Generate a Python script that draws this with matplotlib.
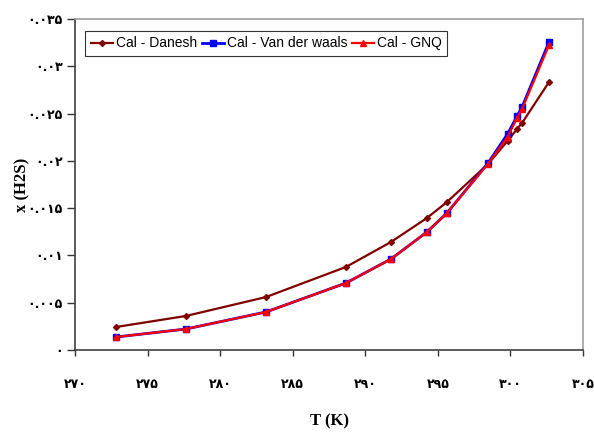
import matplotlib.pyplot as plt
import numpy as np

# temperatures (K) and H2S mole fraction for each model
T = [272.82, 277.65, 283.16, 288.67, 291.77, 294.25, 295.63, 298.46, 299.80, 300.46, 300.80, 302.66]
x_danesh = [0.00243, 0.00360, 0.00560, 0.00878, 0.01142, 0.01396, 0.01565, 0.01967, 0.02210, 0.02337, 0.02400, 0.02834]
x_vdw = [0.00137, 0.00222, 0.00402, 0.00708, 0.00962, 0.01248, 0.01449, 0.01977, 0.02284, 0.02474, 0.02569, 0.03257]
x_gnq = [0.00137, 0.00222, 0.00402, 0.00708, 0.00962, 0.01248, 0.01449, 0.01970, 0.02252, 0.02453, 0.02548, 0.03225]

xticks = [270, 275, 280, 285, 290, 295, 300, 305]
yticks = [0, 0.005, 0.01, 0.015, 0.02, 0.025, 0.03, 0.035]

fa = str.maketrans("0123456789", "۰۱۲۳۴۵۶۷۸۹")


def to_fa(v):
    s = ("%g" % v)
    return s.translate(fa)


fig = plt.figure(figsize=(5.94, 4.32), dpi=100)
ax = fig.add_axes([75/594, 1-350/432, 508/594, 331/432])

ax.plot(T, x_danesh, color="#800000", lw=1.6, marker="D", ms=3, label="Cal - Danesh", zorder=3)
ax.plot(T, x_vdw, color="#0000FF", lw=2.0, marker="s", ms=5, label="Cal - Van der waals", zorder=4)
ax.plot(T, x_gnq, color="#FF0000", lw=1.6, marker="^", ms=5, label="Cal - GNQ", zorder=5)

ax.set_xlim(270, 305)
ax.set_ylim(0, 0.035)
ax.set_xticks(xticks)
ax.set_yticks(yticks)
ax.set_xticklabels([to_fa(v) for v in xticks], fontweight="bold", fontsize=9, family="DejaVu Sans")
ax.set_yticklabels([to_fa(v) for v in yticks], fontweight="bold", fontsize=9, family="DejaVu Sans")
ax.tick_params(axis="x", direction="out", length=4, width=1, pad=16, colors="#333333", labelcolor="black")
ax.tick_params(axis="y", direction="out", length=6, width=1, pad=3, colors="#333333", labelcolor="black")

for side in ["top", "right"]:
    ax.spines[side].set_color("#a0a0a0")
    ax.spines[side].set_linewidth(1.2)
for side in ["left", "bottom"]:
    ax.spines[side].set_color("#404040")
    ax.spines[side].set_linewidth(1.2)

ax.set_xlabel("T (K)", family="Liberation Serif", fontweight="bold", fontsize=12, labelpad=16)
ax.set_ylabel("x (H2S)", family="Liberation Serif", fontweight="bold", fontsize=12, labelpad=-2)

leg = ax.legend(loc="upper left", ncol=3, frameon=True, fancybox=False, edgecolor="black",
                prop={"family": "Liberation Sans", "size": 10}, handlelength=1.6, handletextpad=0.2,
                columnspacing=0.35, borderpad=0.4, bbox_to_anchor=(0.006, 0.985))
leg.get_frame().set_linewidth(0.8)

fig.savefig("out.png", dpi=100)
